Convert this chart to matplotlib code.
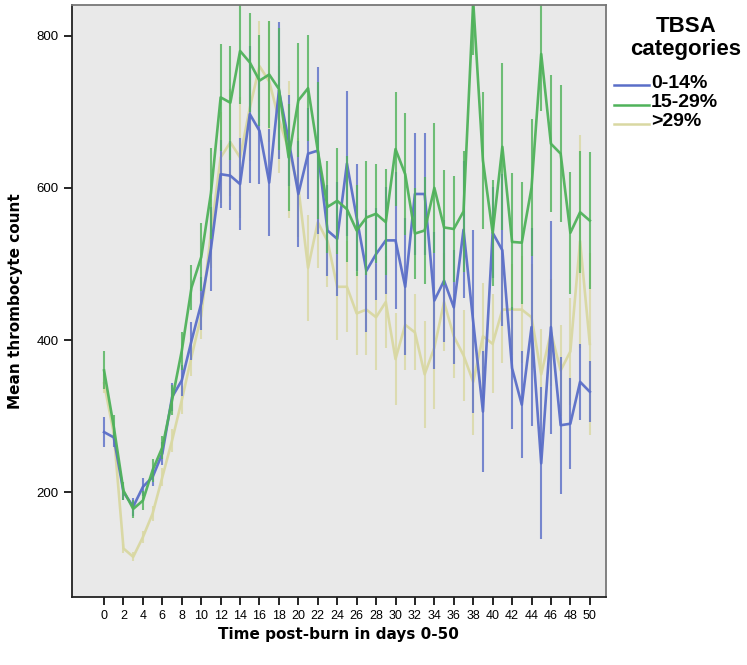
import numpy as np
import matplotlib
matplotlib.use("Agg")
import matplotlib.pyplot as plt
from matplotlib.lines import Line2D

days = list(range(51))

blue_mean = [279, 272, 200, 181, 207, 220, 251, 325, 347, 399, 448, 520, 618, 616, 605, 697,
             675, 607, 728, 662, 592, 645, 649, 544, 533, 632, 561, 491, 513, 531, 531, 470,
             592, 592, 452, 478, 443, 545, 424, 306, 541, 518, 363, 315, 417, 238, 417, 288,
             290, 345, 332]
blue_err = [20, 12, 10, 12, 12, 12, 15, 18, 20, 25, 35, 55, 45, 45, 60, 90,
            70, 70, 90, 60, 70, 60, 110, 60, 75, 95, 70, 80, 60, 70, 90, 90,
            80, 80, 90, 80, 75, 90, 120, 80, 60, 100, 80, 70, 130, 100, 140, 90,
            60, 50, 40]

green_mean = [360, 286, 202, 178, 189, 229, 259, 321, 386, 469, 509, 593, 719, 712, 780, 765,
              741, 749, 730, 640, 715, 731, 649, 575, 583, 572, 544, 561, 566, 555, 651, 618,
              540, 544, 600, 548, 546, 569, 845, 636, 541, 654, 529, 528, 600, 776, 658, 645,
              541, 568, 557]
green_err = [25, 15, 12, 12, 12, 15, 15, 20, 25, 30, 45, 60, 70, 75, 70, 65,
             60, 70, 80, 70, 75, 70, 90, 60, 70, 70, 60, 75, 65, 70, 75, 80,
             60, 70, 85, 75, 70, 80, 70, 90, 70, 110, 90, 80, 90, 75, 90, 90,
             80, 80, 90]

yellow_mean = [343, 277, 126, 115, 141, 172, 220, 268, 321, 378, 432, 540, 640, 660, 640, 705,
               760, 740, 690, 650, 600, 495, 555, 530, 470, 470, 435, 440, 430, 450, 375, 420,
               410, 355, 390, 450, 405, 380, 345, 405, 395, 440, 440, 440, 430, 355, 410, 360,
               385, 530, 395]
yellow_err = [12, 10, 6, 6, 8, 10, 12, 15, 18, 25, 30, 45, 60, 70, 80, 70,
              60, 80, 70, 90, 65, 70, 60, 60, 70, 60, 55, 60, 70, 60, 60, 60,
              50, 70, 80, 65, 55, 60, 70, 70, 65, 70, 60, 70, 70, 60, 70, 60,
              70, 140, 120]

labels = ["0-14%", "15-29%", ">29%"]
colors = ["#5a6ec8", "#4fb25a", "#d9d8a2"]

W, H = 747, 665
fig = plt.figure(figsize=(W / 100, H / 100), dpi=100)
ax = fig.add_axes([0.0964, 0.102, 0.7146, 0.890])
ax.set_facecolor("#e9e9e9")

series = [(blue_mean, blue_err), (green_mean, green_err), (yellow_mean, yellow_err)]
for i in [2, 0, 1]:
    m, e = series[i]
    ax.errorbar(days, m, yerr=e, fmt="none", ecolor=colors[i], elinewidth=1.5,
                capsize=0, alpha=0.8)
    ax.plot(days, m, color=colors[i], lw=1.9, alpha=0.95)

ax.set_xlim(-3.3, 51.65)
ax.set_ylim(62, 840)
ax.set_xticks(range(0, 51, 2))
ax.set_yticks([200, 400, 600, 800])
ax.tick_params(axis="x", labelsize=9, length=6, width=1.2, pad=3)
ax.tick_params(axis="y", labelsize=9.5, length=6, width=1.2)
for lab in ax.get_xticklabels() + ax.get_yticklabels():
    lab.set_fontfamily("Liberation Sans")

for side in ["left", "bottom"]:
    ax.spines[side].set_color("#222222")
    ax.spines[side].set_linewidth(1.3)
for side in ["top", "right"]:
    ax.spines[side].set_color("#777777")
    ax.spines[side].set_linewidth(1.3)

ax.set_xlabel("Time post-burn in days 0-50", fontsize=11, fontweight="bold", labelpad=4)
ax.set_ylabel("Mean thrombocyte count", fontsize=11, fontweight="bold", labelpad=10)

# legend drawn by hand, outside the axes on the right
fig.text(686 / W, 1 - 38 / H, "TBSA\ncategories", ha="center", va="center",
         fontsize=16, fontweight="bold", family="Liberation Sans", linespacing=1.1)
for k, (lab, c) in enumerate(zip(labels, colors)):
    yy = 1 - (83 + 19.5 * k) / H
    fig.add_artist(Line2D([614 / W, 649 / W], [yy - 2 / H, yy - 2 / H],
                          transform=fig.transFigure, color=c, lw=1.8))
    fig.text(651 / W, yy, lab, ha="left", va="center", fontsize=14,
             fontweight="bold", family="Liberation Sans")

fig.savefig("out.png", dpi=100)
